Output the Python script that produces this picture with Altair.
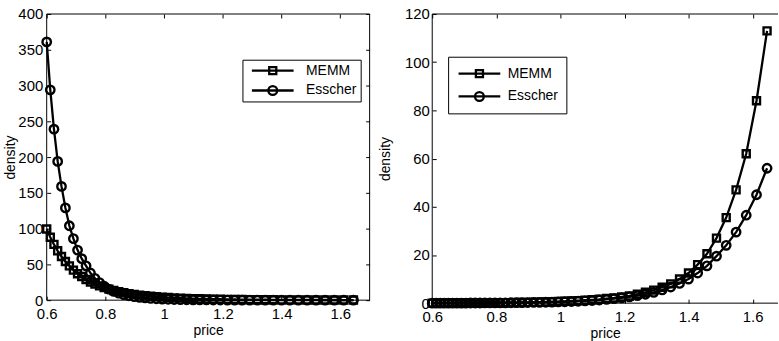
import altair as alt
import pandas as pd

# price grid shared by both panels
price = [
    0.6000, 0.6122, 0.6247, 0.6374, 0.6504, 0.6637, 0.6772, 0.6910, 0.7051, 0.7194,
    0.7341, 0.7490, 0.7643, 0.7799, 0.7958, 0.8120, 0.8285, 0.8454, 0.8626, 0.8802,
    0.8981, 0.9164, 0.9351, 0.9542, 0.9736, 0.9934, 1.0137, 1.0343, 1.0554, 1.0769,
    1.0989, 1.1212, 1.1441, 1.1674, 1.1912, 1.2155, 1.2402, 1.2655, 1.2913, 1.3176,
    1.3444, 1.3718, 1.3998, 1.4283, 1.4574, 1.4871, 1.5174, 1.5483, 1.5799, 1.6120,
    1.6449,
]

# left panel densities
memm_left = [
    99.5, 88, 78, 69, 61, 54, 48, 42, 37, 33,
    29, 25.5, 22.5, 20, 17.5, 15.5, 13.5, 12, 10.5, 9.2,
    8.1, 7.1, 6.2, 5.5, 4.8, 4.2, 3.7, 3.2, 2.8, 2.5,
    2.2, 1.9, 1.7, 1.5, 1.3, 1.15, 1.0, 0.88, 0.78, 0.68,
    0.6, 0.53, 0.47, 0.41, 0.36, 0.32, 0.28, 0.25, 0.22, 0.19,
    0.17,
]
esscher_left = [
    361, 294, 239, 194, 159, 129, 104, 86, 70, 58,
    48, 38, 30.5, 24.5, 19.5, 15.5, 12.3, 9.8, 7.8, 6.2,
    4.9, 3.9, 3.1, 2.45, 1.95, 1.55, 1.22, 0.97, 0.77, 0.61,
    0.48, 0.38, 0.3, 0.24, 0.19, 0.15, 0.12, 0.095, 0.075, 0.06,
    0.047, 0.037, 0.03, 0.024, 0.019, 0.015, 0.012, 0.009, 0.007, 0.006,
    0.005,
]

# right panel densities
memm_right = [
    0.02, 0.02, 0.03, 0.03, 0.04, 0.05, 0.05, 0.06, 0.07, 0.08,
    0.09, 0.1, 0.12, 0.13, 0.15, 0.17, 0.19, 0.22, 0.25, 0.28,
    0.32, 0.37, 0.43, 0.5, 0.58, 0.67, 0.78, 0.9, 1.05, 1.2,
    1.4, 1.6, 1.9, 2.2, 2.6, 3.0, 3.7, 4.5, 5.4, 6.6,
    8.0, 10.0, 12.5, 16.0, 20.5, 27.0, 35.5, 47.0, 62.0, 84.0,
    113.0,
]
esscher_right = [
    0.01, 0.01, 0.02, 0.02, 0.02, 0.03, 0.03, 0.04, 0.04, 0.05,
    0.06, 0.07, 0.08, 0.09, 0.1, 0.12, 0.14, 0.16, 0.19, 0.22,
    0.25, 0.29, 0.33, 0.37, 0.43, 0.5, 0.58, 0.68, 0.8, 0.95,
    1.1, 1.3, 1.55, 1.85, 2.2, 2.6, 3.1, 3.7, 4.5, 5.5,
    6.7, 8.2, 10.0, 12.5, 15.5, 19.5, 24.0, 29.5, 36.5, 45.0,
    56.0,
]

series = ["MEMM", "Esscher"]
x_ticks = [0.6, 0.8, 1.0, 1.2, 1.4, 1.6]
y_ticks_left = [0, 50, 100, 150, 200, 250, 300, 350, 400]
y_ticks_right = [0, 20, 40, 60, 80, 100, 120]

FONT = "Liberation Sans"

# legend glyphs: a line with a square / circle marker in the middle
SQUARE_GLYPH = "M-1,0H1M-0.17,-0.17H0.17V0.17H-0.17Z"
CIRCLE_GLYPH = "M-1,0H1M0.21,0A0.21,0.21,0,1,1,-0.21,0A0.21,0.21,0,1,1,0.21,0Z"


def long_table(memm, esscher):
    rows = []
    for p, m, e in zip(price, memm, esscher):
        rows.append({"price": p, "density": m, "model": "MEMM"})
        rows.append({"price": p, "density": e, "model": "Esscher"})
    return pd.DataFrame(rows)


def panel(df, W, H, xmax, ymax, yticks, leg, right_edge, ylab_pad, ytitle_pad):
    xs = alt.Scale(domain=[0.6, xmax], nice=False, zero=False)
    ys = alt.Scale(domain=[0, ymax], nice=False)

    lines = alt.Chart(df).mark_line(strokeWidth=2.3, color="black").encode(
        x=alt.X("price:Q", scale=xs, axis=alt.Axis(
            orient="bottom", offset=-4, tickSize=4, values=x_ticks, format="~g",
            labelFlush=False, domain=False, title="price", labelPadding=6, titlePadding=3)),
        y=alt.Y("density:Q", scale=ys, axis=alt.Axis(
            orient="left", offset=-4, tickSize=4, values=yticks, labelFlush=False,
            domain=False, title="density", labelPadding=ylab_pad, titlePadding=ytitle_pad)),
        detail="model:N",
    )

    right_axis = alt.Axis(orient="right", offset=-4, tickSize=4, values=yticks,
                          labels=False, domain=False, title=None)
    points = alt.Chart(df).mark_point(
        filled=False, strokeWidth=2.4, color="black", opacity=1
    ).encode(
        x=alt.X("price:Q", scale=xs, axis=alt.Axis(
            orient="top", offset=-4, tickSize=4, values=x_ticks, labels=False,
            domain=False, title=None)),
        y=alt.Y("density:Q", scale=ys, axis=right_axis if right_edge else None),
        shape=alt.Shape("model:N", scale=alt.Scale(domain=series, range=["square", "circle"]),
                        legend=None),
        size=alt.Size("model:N", scale=alt.Scale(domain=series, range=[50, 72]), legend=None),
    )

    # boxed legend: line-with-marker glyphs for each model
    legend = alt.Legend(
        title=None, orient="none", legendX=leg["x"], legendY=leg["y"],
        padding=leg["pad"], clipHeight=leg["clip"], rowPadding=leg["row"],
        symbolSize=1764, symbolStrokeWidth=2.3, symbolOffset=leg["symoff"],
        symbolStrokeColor="black", symbolFillColor="transparent", symbolOpacity=1,
        labelOffset=leg["laboff"], labelFont=FONT, labelFontSize=14,
        labelColor="black", strokeColor="black", fillColor="white",
    )
    key = alt.Chart(pd.DataFrame({"model": series})).mark_point(opacity=0).encode(
        shape=alt.Shape("model:N", sort=series,
                        scale=alt.Scale(domain=series, range=[SQUARE_GLYPH, CIRCLE_GLYPH]),
                        legend=legend),
    )

    one = pd.DataFrame({"k": [0]})
    rule = alt.Chart(one).mark_rule(color="black", strokeWidth=1)
    borders = [
        rule.encode(x=alt.value(0), x2=alt.value(W), y=alt.value(0)),
        rule.encode(x=alt.value(0), x2=alt.value(W), y=alt.value(H)),
        rule.encode(x=alt.value(0), y=alt.value(0), y2=alt.value(H)),
    ]
    if right_edge:
        borders.append(rule.encode(x=alt.value(W), y=alt.value(0), y2=alt.value(H)))

    return alt.layer(lines, points, key, *borders).resolve_scale(
        x="independent", y="independent", shape="independent"
    ).resolve_legend(shape="independent").properties(width=W, height=H)


left = panel(
    long_table(memm_left, esscher_left), W=325, H=288, xmax=1.7, ymax=400,
    yticks=y_ticks_left,
    leg={"x": 197, "y": 46, "pad": 4, "clip": 14, "row": 6, "symoff": 4, "laboff": 11},
    right_edge=True, ylab_pad=4, ytitle_pad=0,
)
right = panel(
    long_table(memm_right, esscher_right), W=348, H=291, xmax=0.6 + 348 / 322.5, ymax=120,
    yticks=y_ticks_right,
    leg={"x": 16, "y": 43, "pad": 8, "clip": 18, "row": 5, "symoff": 1, "laboff": 6},
    right_edge=False, ylab_pad=3, ytitle_pad=12,
)

chart = alt.hconcat(left, right, spacing=7).resolve_scale(
    shape="independent", size="independent"
).resolve_legend(shape="independent").properties(
    padding={"left": 3, "top": 6, "right": 0, "bottom": 0}
).configure_view(stroke=None).configure_axis(
    labelFont=FONT, labelFontSize=15, labelColor="black",
    titleFont=FONT, titleFontSize=14, titleFontWeight="normal", titleColor="black",
    tickColor="black", tickWidth=1, grid=False,
)

chart.save("out.html", embed_options={"renderer": "svg", "actions": False})
